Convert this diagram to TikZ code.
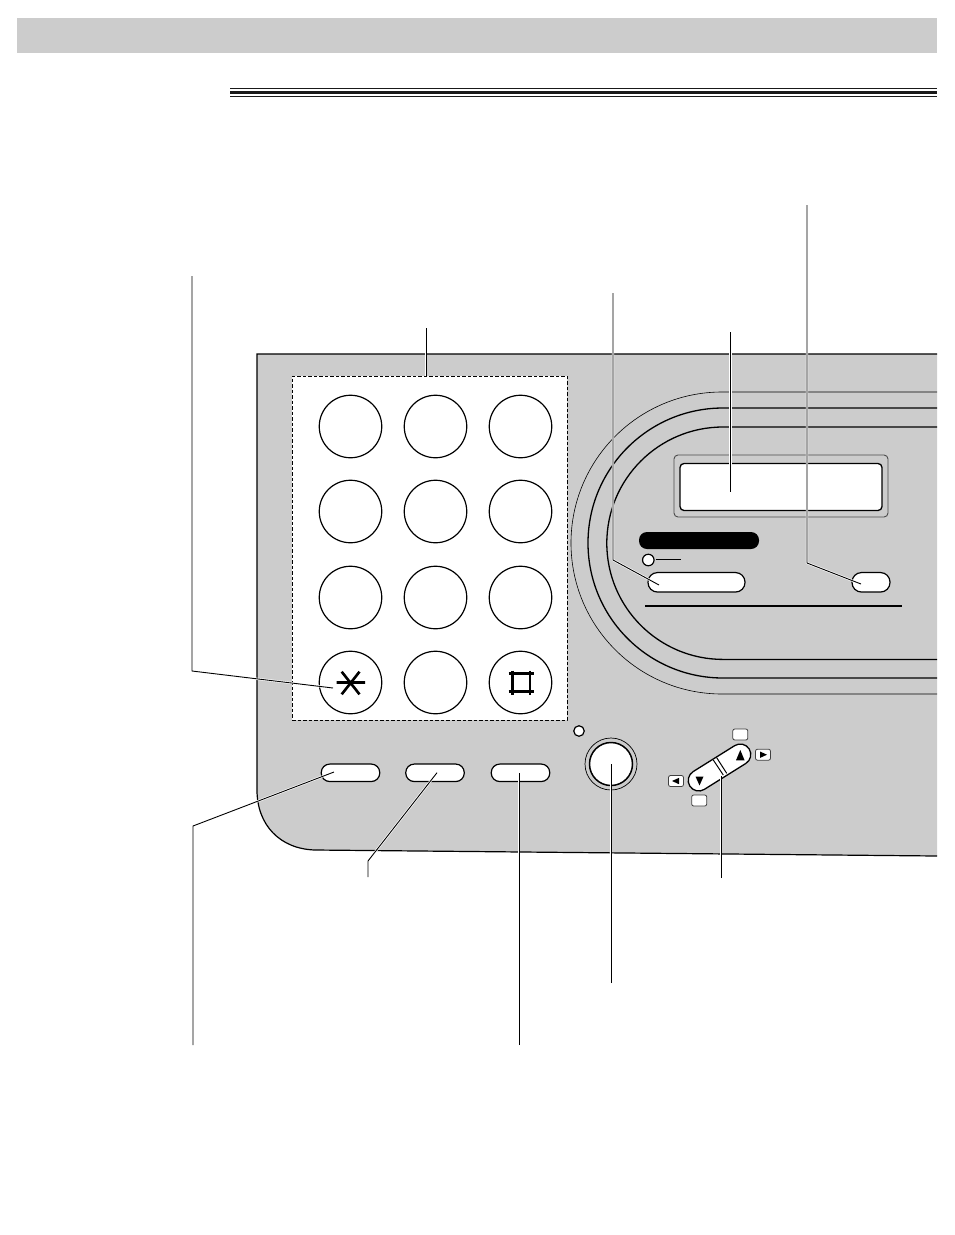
\documentclass[tikz,border=0pt]{standalone}
\usetikzlibrary{calc}
\definecolor{panelgray}{HTML}{CCCCCC}
\tikzset{
  key/.style={circle,draw=black,line width=1.2pt,fill=white,minimum size=62.5pt,inner sep=0pt},
  pill/.style={rectangle,draw=black,line width=1.2pt,fill=white,rounded corners=8.5pt,inner sep=0pt,minimum height=17.5pt},
  led/.style={circle,draw=black,line width=1.2pt,fill=white,inner sep=0pt},
  tinykey/.style={rectangle,draw=black!75,line width=.8pt,fill=white,rounded corners=2pt,inner sep=0pt,minimum width=15pt,minimum height=11pt},
  leader/.style={preaction={draw=white,line width=2.2pt},draw=black,line width=.9pt},
  track/.style={draw=black,line width=1.3pt},
  glyph/.style={draw=black,line width=2.6pt},
  tri/.style={fill=black,draw=none}
}
\begin{document}
\begin{tikzpicture}[x=1pt,y=-1pt]
\useasboundingbox (0,0) rectangle (954,1235);
% header
\fill[panelgray] (17,18) rectangle (937,53);
\fill[black!90] (230,88) rectangle (937,89.4);
\fill[black!90] (230,91) rectangle (937,94.4);
\fill[black!90] (230,95.8) rectangle (937,96.9);
% panel
\fill[panelgray] (937,354) -- (257,354) -- (257,790) .. controls (257,825) and (280,849) .. (315,850) -- (937,856) -- cycle;
\draw[line width=1.2pt] (937,354) -- (257,354) -- (257,790) .. controls (257,825) and (280,849) .. (315,850) -- (937,856);
% concentric tracks
\draw[draw=black,line width=.6pt] (937,392) -- (722,392) arc[start angle=-90,end angle=-270,radius=151] -- (937,694);
\draw[track] (937,408) -- (723,408) arc[start angle=-90,end angle=-270,radius=135] -- (937,678);
\draw[track] (937,427) -- (723,427) arc[start angle=-90,end angle=-270,radius=116.2] -- (937,659.4);
% keypad
\node[rectangle,draw=black,dash pattern=on 3.5pt off 2pt,line width=1pt,fill=white,minimum width=275pt,minimum height=344pt,inner sep=0pt] (pad) at (429.5,548) {};
\foreach \r/\yy in {a/426.5,b/511.5,c/597.5,d/682.5}{
  \foreach \c/\xx in {1/350.5,2/435.5,3/520.5}{
    \node[key] (k\r\c) at (\xx,\yy) {};
  }
}
% star and hash
\draw[glyph] (336.5,682.5) -- (365,682.5) (341.7,671.7) -- (359.5,694.3) (359.5,671.7) -- (341.7,694.3);
\draw[glyph] (512.5,670.5) -- (512.5,694.5) (530,670.5) -- (530,694.5) (508.5,673.5) -- (533.5,673.5) (508.5,691.7) -- (533.5,691.7);
% display
\node[rectangle,draw=black!70,line width=.9pt,rounded corners=4pt,minimum width=214pt,minimum height=62pt,inner sep=0pt] (dispout) at (781,486) {};
\node[rectangle,draw=black,line width=1.3pt,fill=white,rounded corners=4pt,minimum width=202pt,minimum height=47pt,inner sep=0pt] (disp) at (781,487) {};
% black pill, led, buttons
\node[rectangle,fill=black,rounded corners=8pt,minimum width=120pt,minimum height=17pt,inner sep=0pt] (band) at (699,540.5) {};
\node[led,minimum size=11.5pt] (ledA) at (648.3,560) {};
\coordinate (ledEnd) at (681,559);
\draw[line width=.8pt] (ledA.east) ++(1,-1) -- (ledEnd);
\node[pill,minimum width=97pt,minimum height=19.5pt,rounded corners=9.5pt] (wide) at (696.5,582.3) {};
\node[pill,minimum width=38pt,minimum height=19.5pt,rounded corners=9.5pt] (small) at (871,582.3) {};
\draw[line width=2pt] (645,606) -- (902,606);
% lower pills
\node[pill,minimum width=58.5pt] (p1) at (350.5,772.8) {};
\node[pill,minimum width=58.5pt] (p2) at (435,772.8) {};
\node[pill,minimum width=58.5pt] (p3) at (520.5,772.8) {};
% start button
\node[led,minimum size=10.5pt] (ledB) at (579,731) {};
\node[circle,draw=black,line width=.7pt,fill=panelgray,minimum size=52pt,inner sep=0pt] (startO) at (611,764) {};
\node[circle,draw=black,line width=1.5pt,fill=white,minimum size=43pt,inner sep=0pt] (start) at (611,764) {};
% rocker
\node[rectangle,draw=black,line width=1.3pt,fill=white,rounded corners=10.5pt,minimum width=70pt,minimum height=21pt,inner sep=0pt,rotate=32] (rocker) at (719.5,767.5) {};
\draw[line width=1pt] (713.3,760) -- (723.3,775);
\draw[line width=1pt] (716.7,757.7) -- (726.7,773.3);
\fill[tri] (740.3,750) -- (736,760.3) -- (744.6,760.3) -- cycle;
\fill[tri] (699.5,785.5) -- (695.5,776.5) -- (703.5,776.5) -- cycle;
\node[tinykey] (tUp) at (740.3,734.5) {};
\node[tinykey] (tDown) at (699.2,800.5) {};
\node[tinykey] (tRight) at (763,754.7) {};
\node[tinykey] (tLeft) at (676,781) {};
\fill[tri] (767,754.7) -- (760,751.5) -- (760,757.9) -- cycle;
\fill[tri] (672,781) -- (679,777.8) -- (679,784.2) -- cycle;
% leader anchors
\coordinate (sFree) at (192,276);
\coordinate (sBend) at (192,671);
\coordinate (sEnd) at (333,688);
\coordinate (wFree) at (613,293);
\coordinate (wBend) at (613,560);
\coordinate (wEnd) at (659,585);
\coordinate (mFree) at (807,205);
\coordinate (mBend) at (807,563);
\coordinate (mEnd) at (861,584);
\coordinate (dFree) at (730.5,332);
\coordinate (dEnd) at (730.5,492);
\coordinate (kFree) at (426,328);
\coordinate (aFree) at (193,1045);
\coordinate (aBend) at (193,826);
\coordinate (aEnd) at (334,772);
\coordinate (bFree) at (368,877);
\coordinate (bBend) at (368,861);
\coordinate (bEnd) at (437,772.7);
\coordinate (cFree) at (519,1045);
\coordinate (cEnd) at (519,773);
\coordinate (eFree) at (611,983);
\coordinate (eEnd) at (611,764);
\coordinate (fFree) at (721,878);
\coordinate (fEnd) at (721,776);
% leaders
\draw[leader] (sFree) -- (sBend) -- (sEnd);
\draw[leader] (wFree) -- (wBend) -- (wEnd);
\draw[leader] (mFree) -- (mBend) -- (mEnd);
\draw[leader] (dFree) -- (dEnd);
\draw[leader] (kFree) -- (kFree |- pad.north);
\draw[leader] (aFree) -- (aBend) -- (aEnd);
\draw[leader] (bFree) -- (bBend) -- (bEnd);
\draw[leader] (cFree) -- (cEnd);
\draw[leader] (eFree) -- (eEnd);
\draw[leader] (fFree) -- (fEnd);
\end{tikzpicture}
\end{document}
